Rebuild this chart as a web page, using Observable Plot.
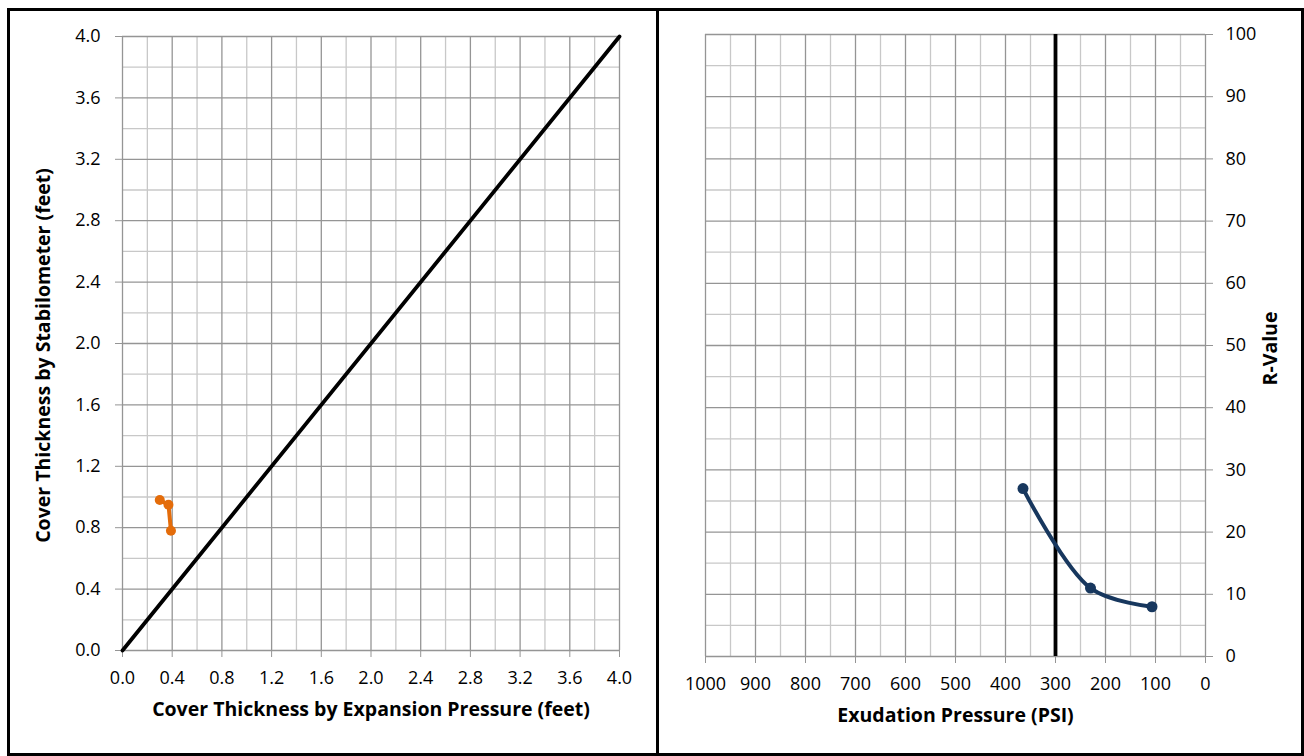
<!DOCTYPE html>
<html><head><meta charset="utf-8">
<script src="https://cdn.jsdelivr.net/npm/d3@7"></script>
<script src="https://cdn.jsdelivr.net/npm/@observablehq/plot@0.6"></script>
<style>
body{margin:0;background:#fff;}
#wrap{position:relative;width:1304px;height:756px;overflow:hidden;font-family:"Open Sans",sans-serif;background:#fff;}
.panel{position:absolute;top:0;}
.box{position:absolute;box-sizing:border-box;border:3px solid #000;pointer-events:none;}
</style></head>
<body>
<div id="wrap">
  <div id="left" class="panel" style="left:0"></div>
  <div id="right" class="panel" style="left:657px"></div>
  <div class="box" style="left:7px;top:8px;width:1297px;height:748px"></div>
  <div style="position:absolute;left:656px;top:8px;width:3px;height:748px;background:#000"></div>
</div>
<script>
// ---- Left chart data ----
const leftMajorTicks = [0, 0.4, 0.8, 1.2, 1.6, 2.0, 2.4, 2.8, 3.2, 3.6, 4.0];
const leftMinorTicks = [0.2, 0.6, 1.0, 1.4, 1.8, 2.2, 2.6, 3.0, 3.4, 3.8];
const leftXLabel = "Cover Thickness by Expansion Pressure (feet)";
const leftYLabel = "Cover Thickness by Stabilometer (feet)";
const diagX = [0, 4];
const diagY = [0, 4];
const sampleX = [0.30, 0.37, 0.39];
const sampleY = [0.98, 0.95, 0.78];

// ---- Right chart data ----
const rightXMajor = [1000, 900, 800, 700, 600, 500, 400, 300, 200, 100, 0];
const rightXMinor = [950, 850, 750, 650, 550, 450, 350, 250, 150, 50];
const rightYMajor = [0, 10, 20, 30, 40, 50, 60, 70, 80, 90, 100];
const rightYMinor = [5, 15, 25, 35, 45, 55, 65, 75, 85, 95];
const rightXLabel = "Exudation Pressure (PSI)";
const rightYLabel = "R-Value";
const exudation = [365, 230, 107];
const rValue = [27, 11, 8];
const exudationLimit = [300];

const majorColor = "#959595";
const minorColor = "#c8c8c8";
const orange = "#E46C0A";
const navy = "#17375E";
const font = "Open Sans";
const tickFont = 18;
const titleFont = 19.5;

const diag = diagX.map((x, i) => ({x, y: diagY[i]}));
const samples = sampleX.map((x, i) => ({x, y: sampleY[i]}));
const curve = exudation.map((x, i) => ({x, y: rValue[i]}));

const left = Plot.plot({
  width: 657, height: 756,
  marginLeft: 122, marginRight: 38, marginTop: 36, marginBottom: 106,
  style: {background: "transparent", fontFamily: font, fontSize: tickFont + "px", color: "#000", overflow: "visible"},
  x: {domain: [0, 4]},
  y: {domain: [0, 4]},
  marks: [
    Plot.ruleX(leftMinorTicks, {stroke: minorColor, strokeWidth: 1.3}),
    Plot.ruleY(leftMinorTicks, {stroke: minorColor, strokeWidth: 1.3}),
    Plot.ruleX(leftMajorTicks, {stroke: majorColor, strokeWidth: 1.3}),
    Plot.ruleY(leftMajorTicks, {stroke: majorColor, strokeWidth: 1.3}),
    Plot.axisX({ticks: leftMajorTicks, tickFormat: d => d.toFixed(1), tickSize: 7, tickPadding: 14, label: null, stroke: majorColor, fill: "#000", fontSize: tickFont}),
    Plot.axisY({ticks: leftMajorTicks, tickFormat: d => d.toFixed(1), tickSize: 7, tickPadding: 15, label: null, stroke: majorColor, fill: "#000", fontSize: tickFont}),
    Plot.line(diag, {x: "x", y: "y", stroke: "#000", strokeWidth: 3.8}),
    Plot.line(samples, {x: "x", y: "y", stroke: orange, strokeWidth: 4}),
    Plot.dot(samples, {x: "x", y: "y", r: 5, fill: orange}),
    Plot.text([leftXLabel], {frameAnchor: "bottom", textAnchor: "middle", dy: 65, fontWeight: "bold", fontSize: titleFont, fill: "#000"}),
    Plot.text([leftYLabel], {frameAnchor: "left", textAnchor: "middle", dx: -79, dy: 12, rotate: -90, fontWeight: "bold", fontSize: titleFont, fill: "#000"})
  ]
});
document.getElementById("left").append(left);

const right = Plot.plot({
  width: 647, height: 756,
  marginLeft: 48, marginRight: 99, marginTop: 34, marginBottom: 100,
  style: {background: "transparent", fontFamily: font, fontSize: tickFont + "px", color: "#000", overflow: "visible"},
  x: {domain: [1000, 0]},
  y: {domain: [0, 100]},
  marks: [
    Plot.ruleX(rightXMinor, {stroke: minorColor, strokeWidth: 1.3}),
    Plot.ruleY(rightYMinor, {stroke: minorColor, strokeWidth: 1.3}),
    Plot.ruleX(rightXMajor, {stroke: majorColor, strokeWidth: 1.3}),
    Plot.ruleY(rightYMajor, {stroke: majorColor, strokeWidth: 1.3}),
    Plot.axisX({ticks: rightXMajor, tickFormat: d => String(d), tickSize: 7, tickPadding: 14, label: null, stroke: majorColor, fill: "#000", fontSize: tickFont}),
    Plot.axisY({anchor: "right", ticks: rightYMajor, tickFormat: d => String(d), tickSize: 7, tickPadding: 13, label: null, stroke: majorColor, fill: "#000", fontSize: tickFont}),
    Plot.ruleX(exudationLimit, {stroke: "#000", strokeWidth: 3.8}),
    Plot.line(curve, {x: "x", y: "y", stroke: navy, strokeWidth: 4, curve: "catmull-rom"}),
    Plot.dot(curve, {x: "x", y: "y", r: 5.5, fill: navy}),
    Plot.text([rightXLabel], {frameAnchor: "bottom", textAnchor: "middle", dy: 65, fontWeight: "bold", fontSize: titleFont, fill: "#000"}),
    Plot.text([rightYLabel], {frameAnchor: "right", textAnchor: "middle", dx: 65, dy: 3, rotate: -90, fontWeight: "bold", fontSize: titleFont, fill: "#000"})
  ]
});
document.getElementById("right").append(right);
</script>
</body></html>
